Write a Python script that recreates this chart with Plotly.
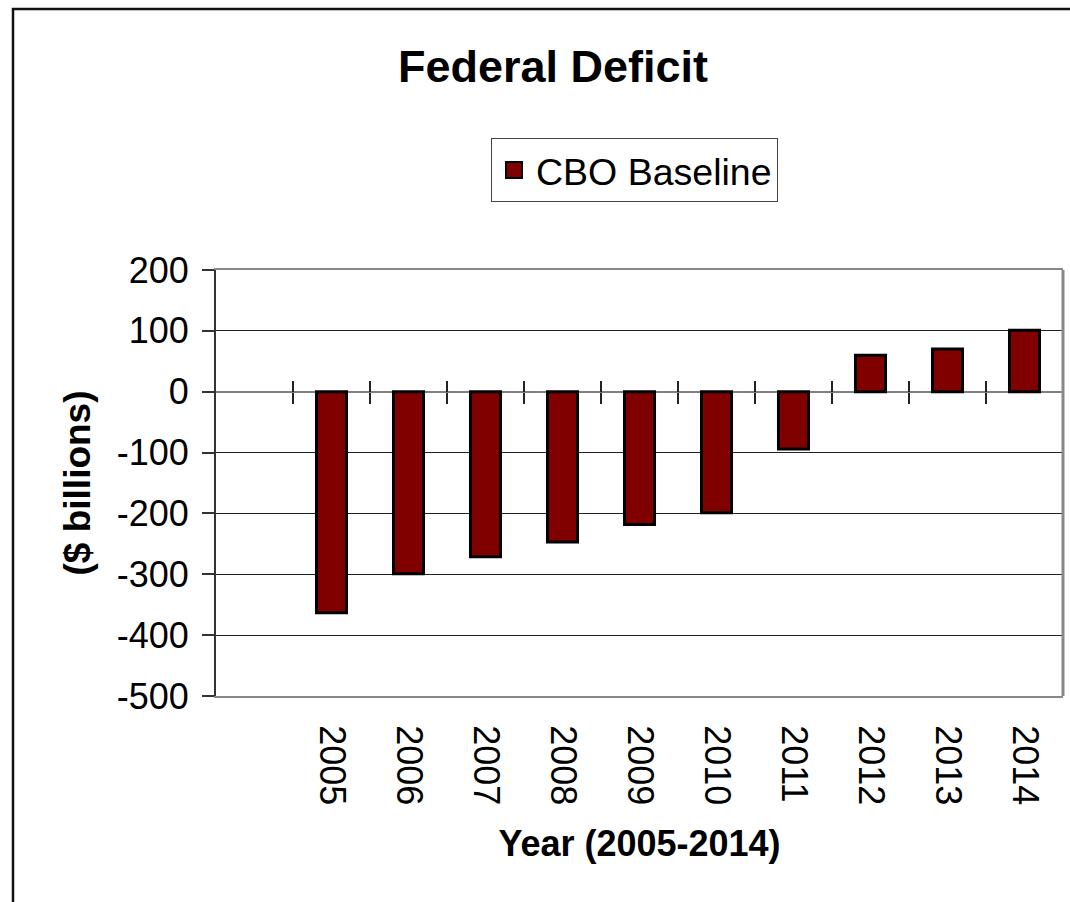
import plotly.graph_objects as go

# Data: CBO baseline deficit projections, $ billions
years = ["2005", "2006", "2007", "2008", "2009", "2010", "2011", "2012", "2013", "2014"]
deficit = [-363, -299, -271, -247, -218, -199, -94, 60, 70, 101]
y_ticks = [200, 100, 0, -100, -200, -300, -400, -500]
y_min, y_max = -500, 200
series_name = "CBO Baseline"

# Figure geometry (pixels)
W, H = 1070, 902
M_L, M_R, M_T, M_B = 216, 7, 270, 206
plot_w = W - M_L - M_R
plot_h = H - M_T - M_B

FONT = "Liberation Sans, Arial, sans-serif"
BAR_FILL = "#800000"

# x range leaves one empty slot to the left of the first year
x_range = [-1.5, len(years) - 0.5]
boundaries = [i - 0.5 for i in range(len(years) + 1)]
zero_pos = (0 - y_min) / (y_max - y_min)

fig = go.Figure()
fig.add_trace(go.Bar(
    x=years, y=deficit, name=series_name, showlegend=False,
    marker=dict(color=BAR_FILL, line=dict(color="black", width=3)),
))
# legend swatch
fig.add_trace(go.Scatter(
    x=[None], y=[None], mode="markers", name=series_name,
    marker=dict(symbol="square", size=20, color=BAR_FILL,
                line=dict(color="black", width=2)),
))
# helper traces so the tick axes on the zero line exist
for ax in ("x2", "x3"):
    fig.add_trace(go.Scatter(x=[], y=[], xaxis=ax, yaxis="y",
                             showlegend=False, hoverinfo="skip"))

tick_axis = dict(
    overlaying="x", anchor="free", position=zero_pos, type="linear",
    range=x_range, tickvals=boundaries, showticklabels=False,
    ticklen=11, tickwidth=1.5, tickcolor="#222",
    showgrid=False, zeroline=False, showline=False, fixedrange=True,
)

fig.update_layout(
    width=W, height=H,
    margin=dict(l=M_L, r=M_R, t=M_T, b=M_B),
    paper_bgcolor="white", plot_bgcolor="white",
    font=dict(family=FONT, color="black", size=36),
    bargap=0.61,
    title=dict(text="<b>Federal Deficit</b>", font=dict(size=45),
               x=553 / W, y=1 - 66 / H, xanchor="center", yanchor="middle"),
    legend=dict(x=(491 - M_L) / plot_w, y=(H - M_B - 138) / plot_h,
                xanchor="left", yanchor="top", itemwidth=34,
                bordercolor="#444", borderwidth=1, bgcolor="white",
                font=dict(size=37.5)),
    xaxis=dict(
        type="category", range=x_range, tickangle=90, ticks="",
        ticklabelstandoff=20,
        showgrid=False, zeroline=False,
        showline=True, linecolor="#888", linewidth=2, mirror=True,
        tickfont=dict(size=36),
        title=dict(text="<b>Year (2005-2014)</b>", font=dict(size=36),
                   standoff=27),
        fixedrange=True,
    ),
    xaxis2=dict(tick_axis, ticks="outside"),
    xaxis3=dict(tick_axis, ticks="inside"),
    yaxis=dict(
        range=[y_min, y_max], tickvals=y_ticks,
        ticktext=[str(v) for v in y_ticks],
        ticks="outside", ticklen=12, tickcolor="#333", tickwidth=1.5,
        ticklabelstandoff=6,
        showgrid=True, gridcolor="#222", gridwidth=1,
        zeroline=True, zerolinecolor="#808080", zerolinewidth=1.5,
        showline=True, linecolor="#333", linewidth=2,
        tickfont=dict(size=36),
        title=dict(text="<b>($ billions)</b>", font=dict(size=37)),
        fixedrange=True,
    ),
    shapes=[
        # right edge of the plot frame
        dict(type="line", xref="paper", yref="paper", x0=1, x1=1, y0=0, y1=1,
             line=dict(color="#888", width=3)),
        # outer chart frame
        dict(type="rect", xref="paper", yref="paper",
             x0=(13 - M_L) / plot_w, x1=(W + 20 - M_L) / plot_w,
             y0=-(M_B + 20) / plot_h, y1=(H - M_B - 9) / plot_h,
             line=dict(color="#111", width=2.5), fillcolor="rgba(0,0,0,0)"),
    ],
)

fig.write_html("out.html")
